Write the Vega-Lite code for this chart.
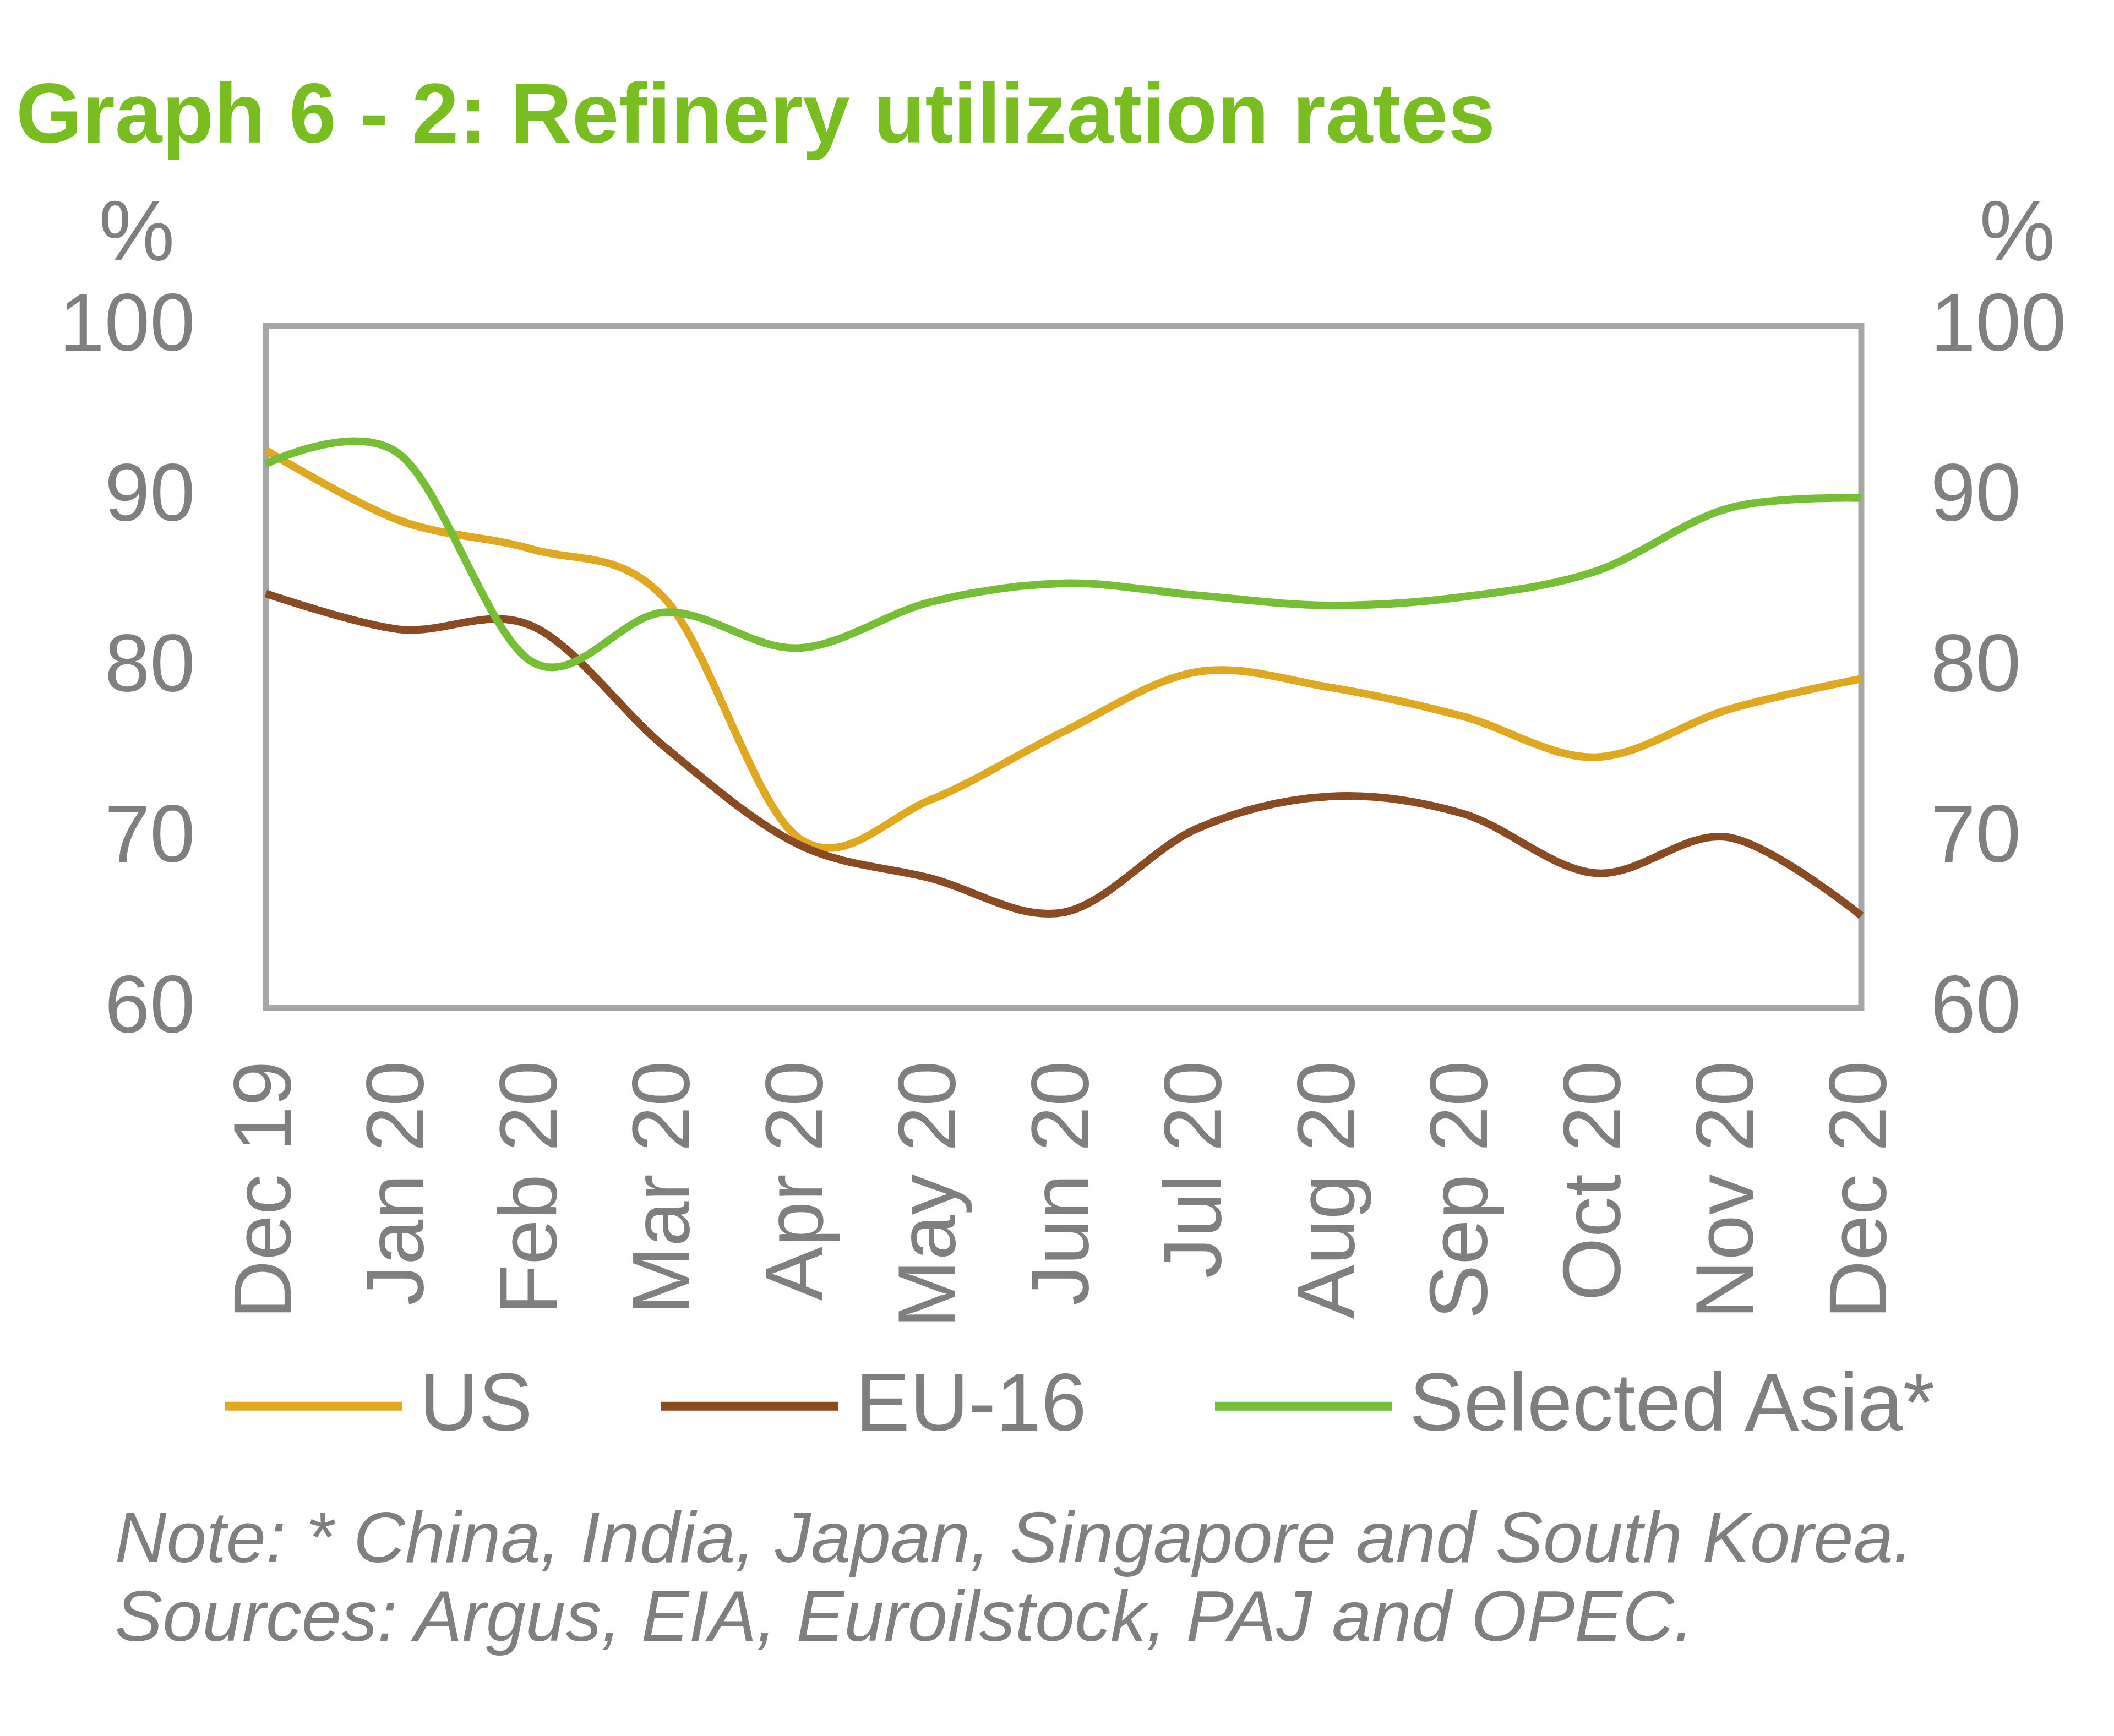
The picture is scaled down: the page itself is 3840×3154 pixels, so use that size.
{
  "$schema": "https://vega.github.io/schema/vega-lite/v6.json",
  "width": 2898,
  "height": 1239,
  "autosize": {"type": "none"},
  "padding": {"left": 483, "top": 592, "right": 459, "bottom": 1323},
  "background": "white",
  "config": {
    "font": "Liberation Sans",
    "view": {"stroke": "#A6A6A6", "strokeWidth": 11}
  },
  "title": {
    "text": "Graph 6 - 2: Refinery utilization rates",
    "anchor": "start",
    "frame": "group",
    "dx": -454,
    "dy": 155,
    "offset": 90,
    "fontSize": 154,
    "fontWeight": "bold",
    "color": "#78BE20",
    "font": "Liberation Sans",
    "baseline": "alphabetic",
    "limit": 0
  },
  "data": {
    "values": [
      {"month": "Dec 19", "series": "US", "value": 92.7},
      {"month": "Jan 20", "series": "US", "value": 88.6},
      {"month": "Feb 20", "series": "US", "value": 86.9},
      {"month": "Mar 20", "series": "US", "value": 84.0},
      {"month": "Apr 20", "series": "US", "value": 70.0},
      {"month": "May 20", "series": "US", "value": 72.2},
      {"month": "Jun 20", "series": "US", "value": 76.2},
      {"month": "Jul 20", "series": "US", "value": 79.7},
      {"month": "Aug 20", "series": "US", "value": 78.8},
      {"month": "Sep 20", "series": "US", "value": 77.1},
      {"month": "Oct 20", "series": "US", "value": 74.7},
      {"month": "Nov 20", "series": "US", "value": 77.5},
      {"month": "Dec 20", "series": "US", "value": 79.3},
      {"month": "Dec 19", "series": "EU-16", "value": 84.3},
      {"month": "Jan 20", "series": "EU-16", "value": 82.2},
      {"month": "Feb 20", "series": "EU-16", "value": 82.4},
      {"month": "Mar 20", "series": "EU-16", "value": 75.3},
      {"month": "Apr 20", "series": "EU-16", "value": 69.6},
      {"month": "May 20", "series": "EU-16", "value": 67.6},
      {"month": "Jun 20", "series": "EU-16", "value": 65.6},
      {"month": "Jul 20", "series": "EU-16", "value": 70.5},
      {"month": "Aug 20", "series": "EU-16", "value": 72.4},
      {"month": "Sep 20", "series": "EU-16", "value": 71.4},
      {"month": "Oct 20", "series": "EU-16", "value": 67.9},
      {"month": "Nov 20", "series": "EU-16", "value": 70.0},
      {"month": "Dec 20", "series": "EU-16", "value": 65.4},
      {"month": "Dec 19", "series": "Selected Asia*", "value": 91.9},
      {"month": "Jan 20", "series": "Selected Asia*", "value": 92.5},
      {"month": "Feb 20", "series": "Selected Asia*", "value": 80.3},
      {"month": "Mar 20", "series": "Selected Asia*", "value": 83.2},
      {"month": "Apr 20", "series": "Selected Asia*", "value": 81.1},
      {"month": "May 20", "series": "Selected Asia*", "value": 83.8},
      {"month": "Jun 20", "series": "Selected Asia*", "value": 84.9},
      {"month": "Jul 20", "series": "Selected Asia*", "value": 84.2},
      {"month": "Aug 20", "series": "Selected Asia*", "value": 83.6},
      {"month": "Sep 20", "series": "Selected Asia*", "value": 84.1},
      {"month": "Oct 20", "series": "Selected Asia*", "value": 85.6},
      {"month": "Nov 20", "series": "Selected Asia*", "value": 89.3},
      {"month": "Dec 20", "series": "Selected Asia*", "value": 89.9}
    ]
  },
  "encoding": {
    "x": {
      "field": "month",
      "type": "nominal",
      "sort": ["Dec 19", "Jan 20", "Feb 20", "Mar 20", "Apr 20", "May 20", "Jun 20", "Jul 20", "Aug 20", "Sep 20", "Oct 20", "Nov 20", "Dec 20"],
      "scale": {"type": "point", "padding": 0},
      "axis": {
        "title": ["Note: * China, India, Japan, Singapore and South Korea.", "Sources: Argus, EIA, Euroilstock, PAJ and OPEC."],
        "titleX": -275,
        "titleY": 1006,
        "titleAlign": "left",
        "titleAnchor": "start",
        "titleBaseline": "alphabetic",
        "titleFontStyle": "italic",
        "titleFontWeight": "normal",
        "titleFontSize": 130,
        "titleLineHeight": 143,
        "titleColor": "#7F7F7F",
        "titleLimit": 0,
        "labelAngle": -90,
        "labelFontSize": 148,
        "labelPadding": 96,
        "labelColor": "#7F7F7F",
        "labelLimit": 0,
        "ticks": false,
        "domain": false,
        "grid": false
      }
    }
  },
  "layer": [
    {
      "mark": {"type": "line", "interpolate": "cardinal", "strokeWidth": 14},
      "encoding": {
        "y": {
          "field": "value",
          "type": "quantitative",
          "scale": {"domain": [60, 100], "nice": false, "zero": false},
          "axis": {
            "orient": "left",
            "values": [60, 70, 80, 90, 100],
            "title": "%",
            "titleAngle": 0,
            "titleX": -235,
            "titleY": -120,
            "titleAlign": "center",
            "titleBaseline": "alphabetic",
            "titleFontSize": 155,
            "titleFontWeight": "normal",
            "titleColor": "#7F7F7F",
            "labelFontSize": 148,
            "labelColor": "#7F7F7F",
            "labelPadding": 129,
            "labelLimit": 0,
            "ticks": false,
            "domain": false,
            "grid": false
          }
        },
        "color": {
          "field": "series",
          "type": "nominal",
          "scale": {"domain": ["US", "EU-16", "Selected Asia*"], "range": ["#E0A820", "#8A4A22", "#76BE35"]},
          "legend": {
            "orient": "none",
            "legendX": -82,
            "legendY": 1794,
            "direction": "horizontal",
            "title": null,
            "symbolType": "stroke",
            "symbolSize": 103041,
            "symbolStrokeWidth": 16,
            "labelFontSize": 148,
            "labelColor": "#7F7F7F",
            "labelOffset": 24,
            "columnPadding": 201,
            "padding": 0,
            "labelLimit": 0
          }
        }
      }
    },
    {
      "mark": {"type": "point", "opacity": 0},
      "encoding": {
        "y": {
          "field": "value",
          "type": "quantitative",
          "scale": {"domain": [60, 100], "nice": false, "zero": false},
          "axis": {
            "orient": "right",
            "values": [60, 70, 80, 90, 100],
            "title": "%",
            "titleAngle": 0,
            "titleX": 283,
            "titleY": -120,
            "titleAlign": "center",
            "titleBaseline": "alphabetic",
            "titleFontSize": 155,
            "titleFontWeight": "normal",
            "titleColor": "#7F7F7F",
            "labelFontSize": 148,
            "labelColor": "#7F7F7F",
            "labelPadding": 125,
            "labelLimit": 0,
            "ticks": false,
            "domain": false,
            "grid": false
          }
        }
      }
    }
  ],
  "resolve": {"scale": {"y": "independent"}}
}
